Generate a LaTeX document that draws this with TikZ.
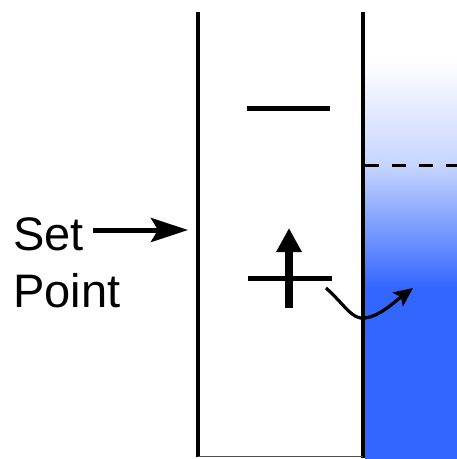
\documentclass[tikz,border=0pt]{standalone}
\usepackage{fontspec}
\setmainfont{Liberation Sans}
\usetikzlibrary{arrows.meta}
\definecolor{liq}{HTML}{3366FF}
\begin{document}
\begin{tikzpicture}[x=1pt,y=-1pt,
  wall/.style={line width=4pt},
  level/.style={line width=5pt},
  lbl/.style={anchor=base west, inner sep=0pt, font=\fontsize{47}{54}\selectfont}]
\useasboundingbox (0,0) rectangle (457,459);
% liquid
\shade[top color=white, bottom color=liq!28] (365,60) rectangle (457,165.5);
\shade[top color=liq!28, bottom color=liq] (365,165) rectangle (457,288);
\fill[liq] (365,287.5) rectangle (457,459);
% tube walls
\draw[wall] (198,12) -- (198,457);
\draw[wall] (363,12) -- (363,458);
\draw[gray!60!black, line width=1pt] (198,456.5) -- (363,456.5);
% dashed level
\draw[line width=3pt, dash pattern=on 14pt off 13pt] (365,165) -- (457,165);
% energy levels
\draw[level] (247,108) -- (330,108);
\draw[level] (248,278) -- (332,278);
% vertical arrow
\coordinate (vs) at (289,308);
\coordinate (ve) at (289,228);
\draw[line width=8pt, -{Triangle[width=24pt,length=24pt]}] (vs) -- (ve);
% curved arrow
\coordinate (cs) at (326,288);
\coordinate (cm) at (365,318);
\coordinate (ce) at (413,288);
\draw[line width=3.2pt, -{Stealth[length=19pt,width=17pt,inset=4pt]}]
  (cs) .. controls (345,305) and (352,320) .. (cm) .. controls (380,316) and (393,303) .. (ce);
% labels
\node[lbl] (setlbl) at (13,250) {Set};
\node[lbl] (pointlbl) at (13,307) {Point};
\coordinate (sa) at (93,230);
\coordinate (sb) at (188,230);
\draw[line width=5pt, -{Stealth[length=37pt,width=24pt,inset=7pt]}] (sa) -- (sb);
\end{tikzpicture}
\end{document}
